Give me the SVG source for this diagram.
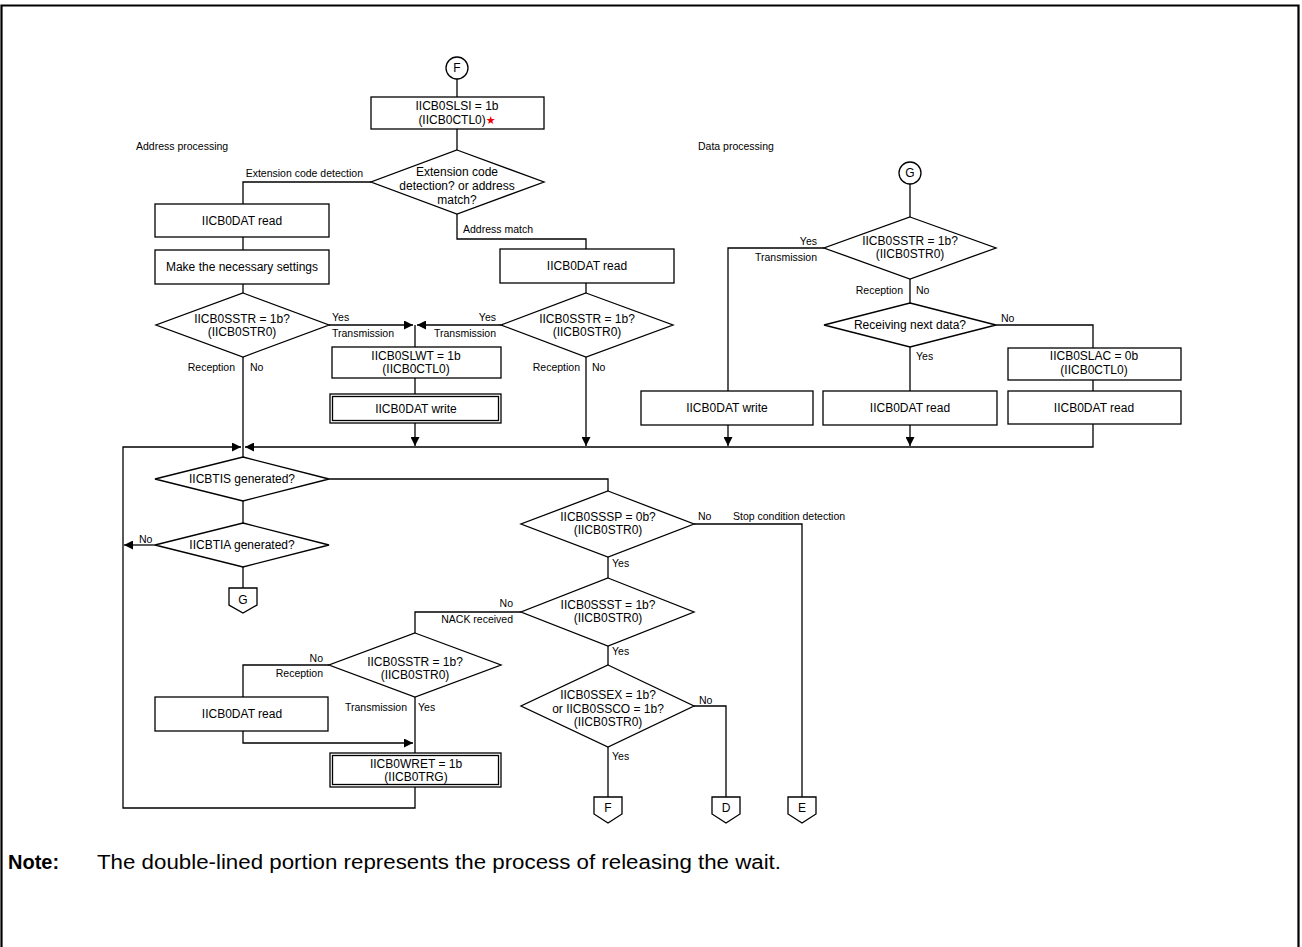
<svg xmlns="http://www.w3.org/2000/svg" width="1302" height="947" viewBox="0 0 1302 947">
<style>
text{font-family:"Liberation Sans",Arial,sans-serif;fill:#000}
.t{font-size:12px;text-anchor:middle}
.l{font-size:10.5px}
.e{text-anchor:end}
.s{fill:#fff;stroke:#000;stroke-width:1.3}
.c path,.c polyline,.c line{fill:none;stroke:#000;stroke-width:1.3}
</style>
<defs>
<marker id="a" viewBox="0 0 10 10" refX="10" refY="5" markerWidth="9" markerHeight="9" markerUnits="userSpaceOnUse" orient="auto"><path d="M0,0 L10,5 L0,10 z" fill="#000"/></marker>
</defs>
<rect width="1302" height="947" fill="#fff"/>
<path d="M1.5,960 V5.5 H1298.5 V960" fill="none" stroke="#000" stroke-width="2.2"/>

<text class="l" x="136" y="150">Address processing</text>
<text class="l" x="698" y="150">Data processing</text>

<g class="c" id="connectors">
<line x1="457" y1="79" x2="457" y2="97"/>
<line x1="457" y1="129" x2="457" y2="150"/>
<polyline points="371,182 243,182 243,204"/>
<line x1="243" y1="237" x2="243" y2="250"/>
<line x1="243" y1="284" x2="243" y2="293"/>
<line x1="329" y1="325" x2="413" y2="325" marker-end="url(#a)"/>
<line x1="243" y1="357" x2="243" y2="447"/>
<polyline points="457,214 457,239 586,239 586,249"/>
<line x1="586" y1="283" x2="586" y2="293"/>
<line x1="501" y1="325" x2="417" y2="325" marker-end="url(#a)"/>
<line x1="415" y1="325" x2="415" y2="347"/>
<line x1="415" y1="378" x2="415" y2="394"/>
<line x1="415" y1="423" x2="415" y2="446" marker-end="url(#a)"/>
<line x1="586" y1="357" x2="586" y2="446" marker-end="url(#a)"/>
<line x1="910" y1="184" x2="910" y2="217"/>
<polyline points="824,248 728,248 728,391"/>
<line x1="910" y1="279" x2="910" y2="303"/>
<polyline points="996,325 1093,325 1093,348"/>
<line x1="910" y1="347" x2="910" y2="391"/>
<line x1="1093" y1="380" x2="1093" y2="391"/>
<line x1="728" y1="425" x2="728" y2="446" marker-end="url(#a)"/>
<line x1="910" y1="425" x2="910" y2="446" marker-end="url(#a)"/>
<polyline points="1093,424 1093,447 245,447" marker-end="url(#a)"/>
<polyline points="415,787 415,808 123,808 123,447 241,447" marker-end="url(#a)"/>
<line x1="243" y1="447" x2="243" y2="457"/>
<polyline points="329,479 608,479 608,491"/>
<line x1="243" y1="501" x2="243" y2="523"/>
<line x1="155" y1="545" x2="124" y2="545" marker-end="url(#a)"/>
<line x1="243" y1="567" x2="243" y2="588"/>
<polyline points="694,524 802,524 802,797"/>
<line x1="608" y1="557" x2="608" y2="578"/>
<polyline points="521,612 415,612 415,633"/>
<line x1="608" y1="646" x2="608" y2="665"/>
<polyline points="694,706 726,706 726,797"/>
<line x1="608" y1="747" x2="608" y2="797"/>
<polyline points="329,665 243,665 243,697"/>
<line x1="415" y1="697" x2="415" y2="753"/>
<polyline points="243,731 243,743 413,743" marker-end="url(#a)"/>
</g>

<g id="labels">
<text class="l e" x="363" y="177">Extension code detection</text>
<text class="l" x="463" y="233">Address match</text>
<text class="l" x="332" y="321">Yes</text>
<text class="l" x="332" y="337">Transmission</text>
<text class="l e" x="235" y="371">Reception</text>
<text class="l" x="250" y="371">No</text>
<text class="l e" x="496" y="321">Yes</text>
<text class="l e" x="496" y="337">Transmission</text>
<text class="l e" x="580" y="371">Reception</text>
<text class="l" x="592" y="371">No</text>
<text class="l e" x="817" y="245">Yes</text>
<text class="l e" x="817" y="261">Transmission</text>
<text class="l e" x="903" y="294">Reception</text>
<text class="l" x="916" y="294">No</text>
<text class="l" x="1001" y="322">No</text>
<text class="l" x="916" y="360">Yes</text>
<text class="l" x="139" y="543">No</text>
<text class="l" x="698" y="520">No</text>
<text class="l" x="733" y="520">Stop condition detection</text>
<text class="l" x="612" y="567">Yes</text>
<text class="l e" x="513" y="607">No</text>
<text class="l e" x="513" y="623">NACK received</text>
<text class="l" x="612" y="655">Yes</text>
<text class="l" x="699" y="704">No</text>
<text class="l" x="612" y="760">Yes</text>
<text class="l e" x="323" y="662">No</text>
<text class="l e" x="323" y="677">Reception</text>
<text class="l e" x="407" y="711">Transmission</text>
<text class="l" x="418" y="711">Yes</text>
</g>

<g id="startF"><circle class="s" cx="457" cy="68" r="11"/><text class="t" x="457" y="72">F</text></g>
<g id="slsi"><rect class="s" x="371" y="97" width="173" height="32"/><text class="t" x="457" y="110">IICB0SLSI = 1b</text><text class="t" x="457" y="124">(IICB0CTL0)<tspan fill="#e00" font-family="DejaVu Sans" font-size="11">★</tspan></text></g>
<g id="ext"><polygon class="s" points="457,150 544,182 457,214 371,182"/><text class="t" x="457" y="176">Extension code</text><text class="t" x="457" y="190">detection? or address</text><text class="t" x="457" y="204">match?</text></g>
<g id="read1"><rect class="s" x="155" y="204" width="174" height="33"/><text class="t" x="242" y="225">IICB0DAT read</text></g>
<g id="settings"><rect class="s" x="155" y="250" width="174" height="34"/><text class="t" x="242" y="271">Make the necessary settings</text></g>
<g id="sstr1"><polygon class="s" points="243,293 329,325 243,357 156,325"/><text class="t" x="242" y="323">IICB0SSTR = 1b?</text><text class="t" x="242" y="336">(IICB0STR0)</text></g>
<g id="read2"><rect class="s" x="500" y="249" width="174" height="34"/><text class="t" x="587" y="270">IICB0DAT read</text></g>
<g id="sstr2"><polygon class="s" points="586,293 673,325 586,357 501,325"/><text class="t" x="587" y="323">IICB0SSTR = 1b?</text><text class="t" x="587" y="336">(IICB0STR0)</text></g>
<g id="slwt"><rect class="s" x="332" y="347" width="169" height="31"/><text class="t" x="416" y="360">IICB0SLWT = 1b</text><text class="t" x="416" y="373">(IICB0CTL0)</text></g>
<g id="write1"><rect class="s" x="330" y="394" width="171" height="29"/><rect class="s" x="332.5" y="396.5" width="166" height="24"/><text class="t" x="416" y="413">IICB0DAT write</text></g>
<g id="startG"><circle class="s" cx="910" cy="173" r="11"/><text class="t" x="910" y="177">G</text></g>
<g id="sstr3"><polygon class="s" points="910,217 996,248 910,279 824,248"/><text class="t" x="910" y="245">IICB0SSTR = 1b?</text><text class="t" x="910" y="258">(IICB0STR0)</text></g>
<g id="next"><polygon class="s" points="910,303 996,325 910,347 824,325"/><text class="t" x="910" y="329">Receiving next data?</text></g>
<g id="write2"><rect class="s" x="641" y="391" width="172" height="34"/><text class="t" x="727" y="412">IICB0DAT write</text></g>
<g id="read3"><rect class="s" x="823" y="391" width="174" height="34"/><text class="t" x="910" y="412">IICB0DAT read</text></g>
<g id="slac"><rect class="s" x="1008" y="348" width="173" height="32"/><text class="t" x="1094" y="360">IICB0SLAC = 0b</text><text class="t" x="1094" y="374">(IICB0CTL0)</text></g>
<g id="read4"><rect class="s" x="1008" y="391" width="173" height="33"/><text class="t" x="1094" y="412">IICB0DAT read</text></g>
<g id="tis"><polygon class="s" points="243,457 329,479 243,501 155,479"/><text class="t" x="242" y="483">IICBTIS generated?</text></g>
<g id="tia"><polygon class="s" points="243,523 329,545 243,567 155,545"/><text class="t" x="242" y="549">IICBTIA generated?</text></g>
<g id="offG"><polygon class="s" points="229,588 257,588 257,605 243,613 229,605"/><text class="t" x="243" y="604">G</text></g>
<g id="sssp"><polygon class="s" points="608,491 694,524 608,557 521,524"/><text class="t" x="608" y="521">IICB0SSSP = 0b?</text><text class="t" x="608" y="534">(IICB0STR0)</text></g>
<g id="ssst"><polygon class="s" points="608,578 694,612 608,646 521,612"/><text class="t" x="608" y="609">IICB0SSST = 1b?</text><text class="t" x="608" y="622">(IICB0STR0)</text></g>
<g id="ssex"><polygon class="s" points="608,665 694,706 608,747 521,706"/><text class="t" x="608" y="699">IICB0SSEX = 1b?</text><text class="t" x="608" y="713">or IICB0SSCO = 1b?</text><text class="t" x="608" y="726">(IICB0STR0)</text></g>
<g id="sstr4"><polygon class="s" points="415,633 501,665 415,697 329,665"/><text class="t" x="415" y="666">IICB0SSTR = 1b?</text><text class="t" x="415" y="679">(IICB0STR0)</text></g>
<g id="read5"><rect class="s" x="155" y="697" width="173" height="34"/><text class="t" x="242" y="718">IICB0DAT read</text></g>
<g id="wret"><rect class="s" x="330" y="753" width="171" height="34"/><rect class="s" x="332.5" y="755.5" width="166" height="29"/><text class="t" x="416" y="768">IICB0WRET = 1b</text><text class="t" x="416" y="781">(IICB0TRG)</text></g>
<g id="offF"><polygon class="s" points="594,797 622,797 622,814 608,823 594,814"/><text class="t" x="608" y="812">F</text></g>
<g id="offD"><polygon class="s" points="712,797 740,797 740,814 726,823 712,814"/><text class="t" x="726" y="812">D</text></g>
<g id="offE"><polygon class="s" points="788,797 816,797 816,814 802,823 788,814"/><text class="t" x="802" y="812">E</text></g>

<g id="note">
<text x="8" y="869" font-size="20" font-weight="bold">Note:</text>
<text x="97" y="869" font-size="20" textLength="684" lengthAdjust="spacingAndGlyphs">The double-lined portion represents the process of releasing the wait.</text>
</g>
</svg>
